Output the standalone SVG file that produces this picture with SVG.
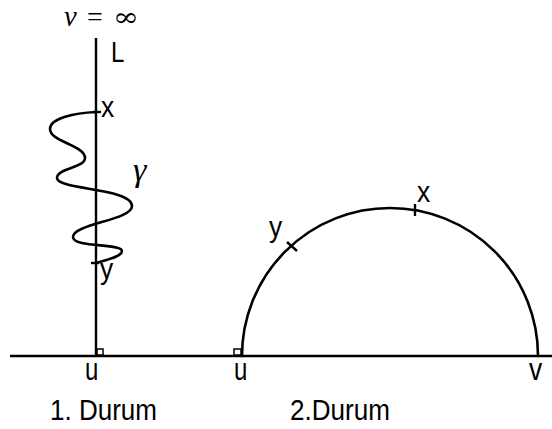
<svg xmlns="http://www.w3.org/2000/svg" width="552" height="429" viewBox="0 0 552 429">
<style>
.ln{stroke:#000;stroke-width:2.4;fill:none;stroke-linecap:butt}
.cv{stroke:#000;stroke-width:2.6;fill:none;stroke-linejoin:round;stroke-linecap:round}
.lbl{font-family:"Liberation Sans",Arial,sans-serif;font-size:24px;fill:#000}
.cap{font-family:"Liberation Sans",Arial,sans-serif;font-size:24px;fill:#000}
.sq{stroke:#000;stroke-width:1.5;fill:#fff}
.math{font-family:"Liberation Serif","Times New Roman",serif;fill:#000}
</style>
<rect width="552" height="429" fill="#fff"/>
<g id="connectors">
<line class="ln" x1="10" y1="356" x2="552" y2="356"/>
<line class="ln" x1="96" y1="38" x2="96" y2="356"/>
<path class="cv" d="M96,112 C75,113 50,118 50,129 C50,142 85,145 85,158 C85,168 57,168 57,178 C57,190 132,188 132,206 C132,220 73,224 73,237 C73,248 122,243 122,251 C122,257 105,260 96,263"/>
<path class="cv" d="M242,356 A148,148 0 0 1 538,356"/>
</g>
<g id="case1">
<text class="math" transform="translate(64,26) scale(1.1,1.1)" font-size="26" font-style="italic">v</text>
<text class="math" x="87" y="26" font-size="28">=</text>
<text transform="translate(113,26) scale(1.2,1)" font-family="DejaVu Serif,serif" font-size="26">∞</text>
<text class="lbl" transform="translate(111,62) scale(1,1.25)">L</text>
<line class="ln" x1="93" y1="112" x2="101" y2="112"/>
<text class="lbl" transform="translate(101,117) scale(1.1,1.25)">x</text>
<text class="math" x="133" y="181" font-size="34" font-style="italic">γ</text>
<line class="ln" x1="91" y1="263" x2="99" y2="263"/>
<text class="lbl" transform="translate(100,279) scale(1.1,1.25)">y</text>
<rect class="sq" x="97" y="349" width="6" height="6"/>
<text class="lbl" transform="translate(85,380) scale(1,1.3)">u</text>
<text class="cap" x="50" y="420" textLength="107" lengthAdjust="spacingAndGlyphs" transform="translate(0,-105) scale(1,1.25)">1. Durum</text>
</g>
<g id="case2">
<rect class="sq" x="234" y="349" width="7" height="6"/>
<text class="lbl" transform="translate(234,380) scale(1,1.3)">u</text>
<text class="lbl" transform="translate(529,380) scale(1.1,1.3)">v</text>
<line class="ln" x1="415" y1="204" x2="415" y2="216"/>
<text class="lbl" transform="translate(417,202) scale(1.1,1.25)">x</text>
<line class="ln" x1="287" y1="242" x2="297" y2="251"/>
<text class="lbl" transform="translate(269,237) scale(1.1,1.25)">y</text>
<text class="cap" x="290" y="420" textLength="100" lengthAdjust="spacingAndGlyphs" transform="translate(0,-105) scale(1,1.25)">2.Durum</text>
</g>
</svg>
